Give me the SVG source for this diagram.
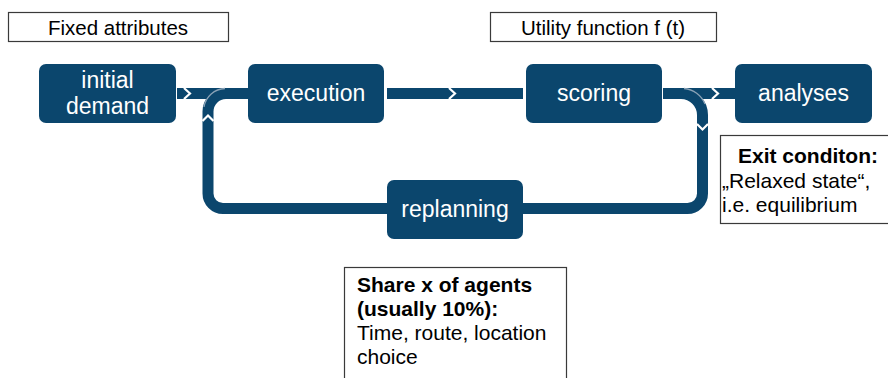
<svg xmlns="http://www.w3.org/2000/svg" width="888" height="378" viewBox="0 0 888 378">
<style>
.box{fill:#0b466d;}
.bt{fill:#ffffff;font-family:"Liberation Sans",Arial,sans-serif;font-size:23px;text-anchor:middle;}
.lbl{fill:#ffffff;stroke:#3a3a3a;stroke-width:1.2;}
.lt{fill:#000000;font-family:"Liberation Sans",Arial,sans-serif;font-size:20.5px;}
.nt{fill:#000000;font-family:"Liberation Sans",Arial,sans-serif;font-size:21px;}
.b{font-weight:bold;}
.bar{fill:none;stroke:#0b466d;stroke-width:11;}
.chev{fill:none;stroke:#ffffff;stroke-width:2.2;}
.hl{fill:none;stroke:#8aa2b6;stroke-width:1.3;}
</style>
<rect width="888" height="378" fill="#ffffff"/>
<g id="connectors">
  <path class="bar" d="M177 93.5 L248 93.5"/>
  <path class="bar" d="M387 93.5 L523 93.5"/>
  <path class="bar" d="M663 93.5 L735 93.5"/>
  <path class="bar" d="M226 93.5 A18 18 0 0 0 208 111.5 L208 193.5 A15 15 0 0 0 223 208.5 L387 208.5"/>
  <path class="bar" d="M681 93.5 A21.5 21.5 0 0 1 702.5 115 L702.5 193.5 A15 15 0 0 1 687.5 208.5 L523 208.5"/>
  <path class="hl" d="M204 107 A22 22 0 0 1 225 88.5"/>
  <path class="hl" d="M684 88.5 A25 25 0 0 1 705 104"/>
  <polyline class="chev" points="184,88 190,93.5 184,99"/>
  <polyline class="chev" points="449,88 455,93.5 449,99"/>
  <polyline class="chev" points="712,88 718,93.5 712,99"/>
  <polyline class="chev" points="202.5,121 208,115.5 213.5,121"/>
  <polyline class="chev" points="697,124 702.5,129.5 708,124"/>
</g>
<g id="fixed-attributes">
  <rect class="lbl" x="8.5" y="12.5" width="220" height="29"/>
  <text class="lt" x="118" y="35" text-anchor="middle">Fixed attributes</text>
</g>
<g id="utility-function">
  <rect class="lbl" x="490.5" y="12.5" width="226" height="29"/>
  <text class="lt" x="603" y="35" text-anchor="middle">Utility function f (t)</text>
</g>
<g id="initial-demand">
  <rect class="box" x="39" y="64" width="137" height="59" rx="7"/>
  <text class="bt" x="107.5" y="88">initial</text>
  <text class="bt" x="107.5" y="114">demand</text>
</g>
<g id="execution">
  <rect class="box" x="248" y="64" width="136" height="59" rx="7"/>
  <text class="bt" x="316" y="101">execution</text>
</g>
<g id="scoring">
  <rect class="box" x="526" y="64" width="136" height="59" rx="7"/>
  <text class="bt" x="594" y="101">scoring</text>
</g>
<g id="analyses">
  <rect class="box" x="735" y="64" width="137" height="59" rx="7"/>
  <text class="bt" x="803.5" y="101">analyses</text>
</g>
<g id="replanning">
  <rect class="box" x="387" y="180" width="136" height="59" rx="7"/>
  <text class="bt" x="455" y="217">replanning</text>
</g>
<g id="exit-condition">
  <rect class="lbl" x="720.5" y="135.5" width="175" height="88"/>
  <text class="nt b" x="738" y="163">Exit conditon:</text>
  <text class="nt" x="722" y="188">„Relaxed state“,</text>
  <text class="nt" x="722" y="212">i.e. equilibrium</text>
</g>
<g id="share">
  <rect class="lbl" x="344.5" y="267.5" width="222" height="120"/>
  <text class="nt b" x="357" y="292">Share x of agents</text>
  <text class="nt b" x="357" y="316">(usually 10%):</text>
  <text class="nt" x="357" y="340">Time, route, location</text>
  <text class="nt" x="357" y="364">choice</text>
</g>
</svg>
